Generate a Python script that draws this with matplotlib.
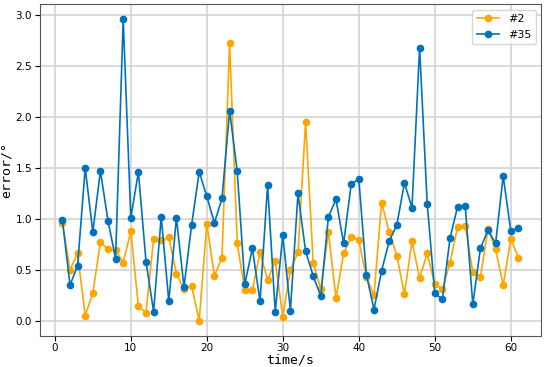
import numpy as np
import matplotlib
matplotlib.use("Agg")
import matplotlib.pyplot as plt

# time steps
time = list(range(1, 62))

# error of #2
err_2 = [0.96, 0.50, 0.66, 0.05, 0.27, 0.77, 0.70, 0.69, 0.57, 0.88,
         0.14, 0.08, 0.80, 0.79, 0.82, 0.46, 0.31, 0.34, 0.00, 0.95,
         0.44, 0.62, 2.73, 0.76, 0.30, 0.30, 0.67, 0.40, 0.59, 0.04,
         0.50, 0.67, 1.95, 0.57, 0.31, 0.87, 0.22, 0.66, 0.82, 0.79,
         0.43, 0.25, 1.16, 0.87, 0.64, 0.26, 0.78, 0.42, 0.66, 0.36,
         0.31, 0.57, 0.92, 0.93, 0.48, 0.43, 0.90, 0.70, 0.35, 0.80,
         0.62]

# error of #35
err_35 = [0.99, 0.35, 0.54, 1.50, 0.87, 1.47, 0.98, 0.61, 2.96, 1.01,
          1.46, 0.58, 0.09, 1.02, 0.19, 1.01, 0.33, 0.94, 1.46, 1.22,
          0.96, 1.20, 2.06, 1.47, 0.36, 0.71, 0.19, 1.33, 0.09, 0.84,
          0.10, 1.25, 0.68, 0.44, 0.24, 1.02, 1.19, 0.76, 1.34, 1.39,
          0.45, 0.11, 0.49, 0.78, 0.94, 1.35, 1.11, 2.68, 1.15, 0.27,
          0.21, 0.81, 1.12, 1.13, 0.16, 0.71, 0.89, 0.76, 1.42, 0.88,
          0.91]

fig = plt.figure(figsize=(5.5, 3.67), dpi=100)
ax = fig.add_axes([0.072, 0.085, 0.912, 0.904])

ax.plot(time, err_2, marker="o", markersize=4.5, linewidth=1.2, color="#FFA500", label="#2")
ax.plot(time, err_35, marker="o", markersize=4.5, linewidth=1.2, color="#0072BD", label="#35")

ax.grid(True, color="#d3d3d3", linewidth=1.2)
ax.set_axisbelow(True)
ax.set_xlabel("time/s", fontsize=9.5, family="DejaVu Sans Mono")
ax.set_ylabel("error/°", fontsize=9.5, family="DejaVu Sans Mono")
ax.xaxis.set_label_coords(0.5, -0.053)
ax.yaxis.set_label_coords(-0.053, 0.5)
ax.tick_params(labelsize=7.5, pad=2)
ax.set_yticks(np.arange(0, 3.01, 0.5))
for sp in ax.spines.values():
    sp.set_color("#555555")
ax.legend(loc="upper right", fontsize=8)

plt.savefig("out.png")
